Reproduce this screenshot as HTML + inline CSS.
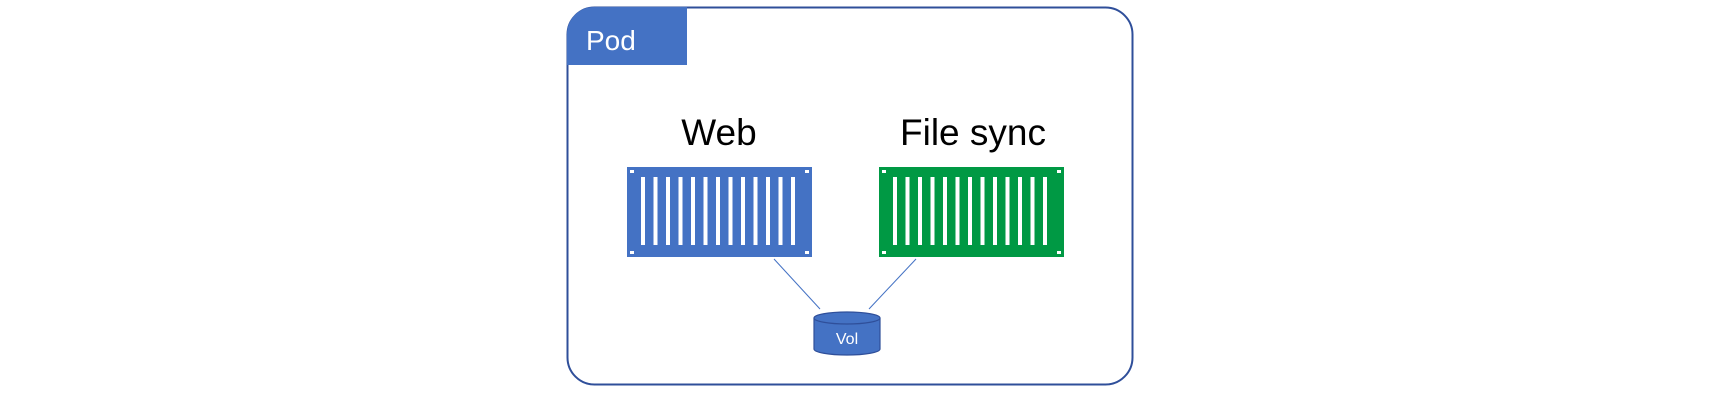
<!DOCTYPE html>
<html><head><meta charset="utf-8"><style>
html,body{margin:0;padding:0;background:#fff;}
</style></head><body>
<svg width="1714" height="404" viewBox="0 0 1714 404" xmlns="http://www.w3.org/2000/svg">
<rect x="567.5" y="7.5" width="565" height="377" rx="27" fill="#fff" stroke="#2F4F9A" stroke-width="2"/>
<path d="M567 34 A27 27 0 0 1 594 7 L687 7 L687 65 L567 65 Z" fill="#4472C4"/>
<text x="586" y="50" font-family="Liberation Sans, sans-serif" font-size="28" fill="#fff">Pod</text>
<text x="719" y="145" text-anchor="middle" font-family="Liberation Sans, sans-serif" font-size="37" fill="#000">Web</text>
<text x="973" y="145" text-anchor="middle" font-family="Liberation Sans, sans-serif" font-size="37" fill="#000">File sync</text>
<g id="c1">
<rect x="627" y="167" width="185" height="90" fill="#4472C4"/>
<g fill="#fff">
<rect x="641" y="177" width="4" height="68"/><rect x="653.5" y="177" width="4" height="68"/><rect x="666" y="177" width="4" height="68"/><rect x="678.5" y="177" width="4" height="68"/><rect x="691" y="177" width="4" height="68"/><rect x="703.5" y="177" width="4" height="68"/><rect x="716" y="177" width="4" height="68"/><rect x="728.5" y="177" width="4" height="68"/><rect x="741" y="177" width="4" height="68"/><rect x="753.5" y="177" width="4" height="68"/><rect x="766" y="177" width="4" height="68"/><rect x="778.5" y="177" width="4" height="68"/><rect x="791" y="177" width="4" height="68"/>
<rect x="630" y="170" width="4" height="3"/><rect x="805" y="170" width="4" height="3"/><rect x="630" y="251" width="4" height="3"/><rect x="805" y="251" width="4" height="3"/>
</g></g>
<g transform="translate(252,0)">
<rect x="627" y="167" width="185" height="90" fill="#009944"/>
<g fill="#fff">
<rect x="641" y="177" width="4" height="68"/><rect x="653.5" y="177" width="4" height="68"/><rect x="666" y="177" width="4" height="68"/><rect x="678.5" y="177" width="4" height="68"/><rect x="691" y="177" width="4" height="68"/><rect x="703.5" y="177" width="4" height="68"/><rect x="716" y="177" width="4" height="68"/><rect x="728.5" y="177" width="4" height="68"/><rect x="741" y="177" width="4" height="68"/><rect x="753.5" y="177" width="4" height="68"/><rect x="766" y="177" width="4" height="68"/><rect x="778.5" y="177" width="4" height="68"/><rect x="791" y="177" width="4" height="68"/>
<rect x="630" y="170" width="4" height="3"/><rect x="805" y="170" width="4" height="3"/><rect x="630" y="251" width="4" height="3"/><rect x="805" y="251" width="4" height="3"/>
</g></g>
<line x1="774" y1="259" x2="820" y2="309" stroke="#4472C4" stroke-width="1"/>
<line x1="916" y1="259" x2="869" y2="309" stroke="#4472C4" stroke-width="1"/>
<path d="M814 318 L814 349 A33 6 0 0 0 880 349 L880 318" fill="#4472C4" stroke="#2F4F9A" stroke-width="1.2"/>
<ellipse cx="847" cy="318" rx="33" ry="6" fill="#4472C4" stroke="#2F4F9A" stroke-width="1.2"/>
<text x="847" y="344" text-anchor="middle" font-family="Liberation Sans, sans-serif" font-size="16" fill="#fff">Vol</text>
</svg>
</body></html>
